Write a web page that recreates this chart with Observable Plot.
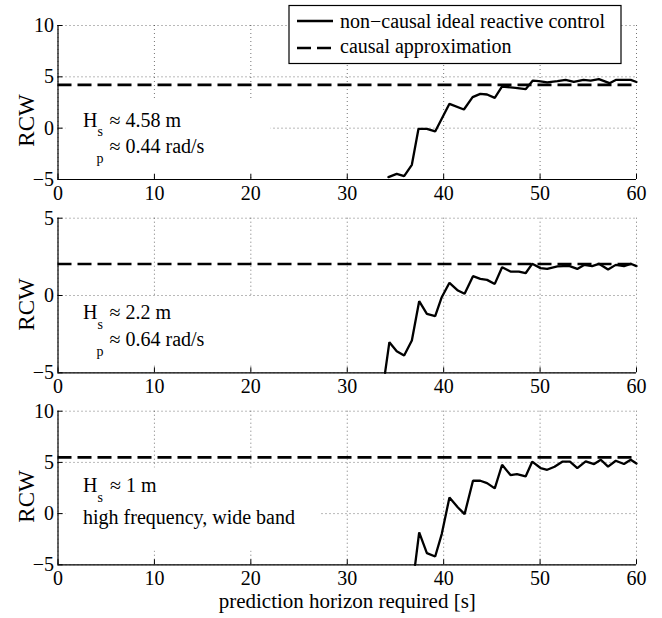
<!DOCTYPE html>
<html><head><meta charset="utf-8">
<script src="https://cdn.jsdelivr.net/npm/d3@7"></script>
<script src="https://cdn.jsdelivr.net/npm/@observablehq/plot@0.6"></script>
<style>
body{margin:0;background:#fff}
#chart{width:662px;height:618px}
#chart svg{display:block}
#chart svg, #chart svg text{font-family:"Liberation Serif","Times New Roman",Times,"Nimbus Roman","DejaVu Serif",serif}
</style>
</head><body><div id="chart"></div>
<script>
const xTicks = [0, 10, 20, 30, 40, 50, 60];
const yTicksWide = [-5, 0, 5, 10];
const yTicksNarrow = [-5, 0, 5];
const legendLabels = ["non\u2212causal ideal reactive control", "causal approximation"];
const xLabel = "prediction horizon required [s]";
const yLabel = "RCW";

// Panel 1: Hs ≈ 4.58 m
const horizon1 = [34.27,35.13,35.9,36.7,37.39,38.26,39.12,40.6,42.1,43.0,43.8,44.5,45.3,46.06,47.45,48.5,49.25,49.87,50.74,51.8,52.65,53.5,54.5,55.25,56.1,57.2,57.85,58.7,59.4,60];
const rcw1 = [-4.77,-4.45,-4.68,-3.57,-0.06,-0.06,-0.32,2.37,1.82,3.02,3.34,3.28,2.95,4.06,3.93,3.8,4.64,4.58,4.45,4.58,4.7,4.5,4.7,4.64,4.77,4.38,4.7,4.7,4.7,4.5];
const causal1 = 4.22;

// Panel 2: Hs ≈ 2.2 m
const horizon2 = [33.92,34.37,35.13,35.9,36.7,37.46,38.26,39.12,39.8,40.6,41.48,42.17,43.04,43.8,44.5,45.3,46.06,46.93,47.8,48.5,49.18,50.05,50.74,51.8,53.0,53.86,54.56,55.4,56.1,57.05,57.85,58.7,59.4,60];
const rcw2 = [-5,-3.02,-3.6,-3.88,-2.91,-0.37,-1.19,-1.34,-0.11,0.82,0.32,0.11,1.25,1.08,1.01,0.75,1.83,1.55,1.55,1.44,2.05,1.77,1.72,1.88,1.92,1.72,1.98,1.9,2.05,1.68,1.98,1.9,2.05,1.9];
const causal2 = 2.04;

// Panel 3: Hs ≈ 1 m
const horizon3 = [37.04,37.46,38.26,39.12,39.8,40.6,41.48,42.17,43.04,43.8,44.5,45.3,46.06,46.93,47.6,48.5,49.18,50.05,50.74,51.5,52.3,53.1,53.86,54.73,55.6,56.3,57.05,57.85,58.7,59.4,60];
const rcw3 = [-5,-1.84,-3.86,-4.19,-2.0,1.58,0.6,-0.05,3.21,3.21,2.98,2.46,4.77,3.76,3.86,3.63,5.07,4.45,4.28,4.58,5.07,5.07,4.45,5.1,4.84,5.26,4.58,5.16,4.84,5.26,4.9];
const causal3 = 5.49;

const W = 662, ML = 57.5, MR = 26;
const FONT = '"Liberation Serif","Times New Roman",Times,"Nimbus Roman","DejaVu Serif",serif';

function panel(o) {
  const plotH = o.height - o.marginTop - o.marginBottom;
  const plotW = W - ML - MR;
  const data = o.horizon.map((h, i) => ({h, r: o.rcw[i]}));
  const dotted = {stroke: "#000", strokeOpacity: 0.55, strokeWidth: 1, strokeDasharray: "1,3"};
  const marks = [
    Plot.ruleX(xTicks, dotted),
    Plot.ruleY(o.yTicks, dotted),
    Plot.frame({fill: "white", stroke: "none", insetLeft: o.box[0], insetRight: o.box[1], insetTop: o.box[2], insetBottom: o.box[3]}),
    Plot.ruleX(xTicks, {stroke: "#000", strokeWidth: 1, insetTop: plotH - 5}),
    Plot.ruleY(o.yTicks, {stroke: "#000", strokeWidth: 1, insetRight: plotW - 5}),
    Plot.ruleX([xTicks[0]], {stroke: "#000", strokeWidth: 1.2}),
    Plot.ruleY([o.yDomain[0]], {stroke: "#000", strokeWidth: 1.2}),
    Plot.ruleY([o.causal], {stroke: "#000", strokeWidth: 2.6, strokeDasharray: "14,6"}),
    Plot.line(data, {x: "h", y: "r", stroke: "#000", strokeWidth: 2.3, strokeLinejoin: "miter"}),
    Plot.text([yLabel], {frameAnchor: "left", rotate: -90, dx: -24.5, dy: o.ylabelDy, fontSize: 23, textAnchor: "middle", lineAnchor: "bottom", fill: "#000"})
  ];
  for (const n of o.notes) {
    marks.push(Plot.text([n.t], {frameAnchor: "top-left", dx: n.dx, dy: n.dy, fontSize: n.fs, textAnchor: "start", lineAnchor: "bottom", fill: "#000"}));
  }
  if (o.xlabel) {
    marks.push(Plot.text([o.xlabel], {frameAnchor: "bottom", dy: o.xlabelDy, fontSize: 21, textAnchor: "middle", lineAnchor: "bottom", fill: "#000"}));
  }
  return Plot.plot({
    width: W, height: o.height,
    marginLeft: ML, marginRight: MR, marginTop: o.marginTop, marginBottom: o.marginBottom,
    style: {fontFamily: FONT, fontSize: "20px", color: "#000", background: "white", overflow: "visible"},
    x: {domain: [0, 60], ticks: xTicks, tickSize: 0, tickPadding: 6, label: null},
    y: {domain: o.yDomain, ticks: o.yTicks, tickSize: 0, tickPadding: 4, label: null},
    marks
  });
}

const p1 = panel({
  horizon: horizon1, rcw: rcw1, causal: causal1, yDomain: [-5, 10], yTicks: yTicksWide,
  height: 207, marginTop: 25, marginBottom: 28, box: [7.5, 366, 75, 6], ylabelDy: 18,
  notes: [
    {t: "H", dx: 25, dy: 101, fs: 20},
    {t: "s", dx: 39.5, dy: 110, fs: 14},
    {t: "\u2248 4.58 m", dx: 51.5, dy: 101, fs: 20},
    {t: "p", dx: 38.5, dy: 137, fs: 14},
    {t: "\u2248 0.44 rad/s", dx: 51.5, dy: 127, fs: 20}
  ]
});
const p2 = panel({
  horizon: horizon2, rcw: rcw2, causal: causal2, yDomain: [-5, 5], yTicks: yTicksNarrow,
  height: 193, marginTop: 10.7, marginBottom: 27.7, box: [7.5, 308, 79, 9.3], ylabelDy: 9,
  notes: [
    {t: "H", dx: 25, dy: 101, fs: 20},
    {t: "s", dx: 39.5, dy: 111, fs: 14},
    {t: "\u2248 2.2 m", dx: 51.5, dy: 101, fs: 20},
    {t: "p", dx: 38.5, dy: 138, fs: 14},
    {t: "\u2248 0.64 rad/s", dx: 51.5, dy: 128, fs: 20}
  ]
});
const p3 = panel({
  horizon: horizon3, rcw: rcw3, causal: causal3, yDomain: [-5, 10], yTicks: yTicksWide,
  height: 218, marginTop: 10.7, marginBottom: 53.7, box: [7.5, 316, 56.3, 14.3], ylabelDy: 8.5,
  notes: [
    {t: "H", dx: 25, dy: 81, fs: 20},
    {t: "s", dx: 39.5, dy: 91, fs: 14},
    {t: "\u2248 1 m", dx: 52, dy: 81, fs: 20},
    {t: "high frequency, wide band", dx: 25, dy: 112.5, fs: 20}
  ],
  xlabel: xLabel, xlabelDy: 43
});

const chart = document.getElementById("chart");
chart.append(p1, p2, p3);

// legend in the first panel
const g = d3.select(p1).append("g").attr("font-family", FONT).attr("font-size", 20).attr("text-anchor", "start");
g.append("rect").attr("x", 289).attr("y", 5.5).attr("width", 332).attr("height", 58)
  .attr("fill", "white").attr("stroke", "#000").attr("stroke-width", 1.2);
const styles = [null, "14,6"];
legendLabels.forEach((lab, i) => {
  const ly = i === 0 ? 21 : 48;
  g.append("line").attr("x1", 297).attr("x2", i === 0 ? 333 : 331).attr("y1", ly).attr("y2", ly)
    .attr("stroke", "#000").attr("stroke-width", i === 0 ? 2.3 : 2.6)
    .attr("stroke-dasharray", styles[i]);
  g.append("text").attr("x", 340).attr("y", i === 0 ? 28.3 : 53.3).attr("fill", "#000")
    .attr("text-anchor", "start").text(lab);
});
</script>
</body></html>
